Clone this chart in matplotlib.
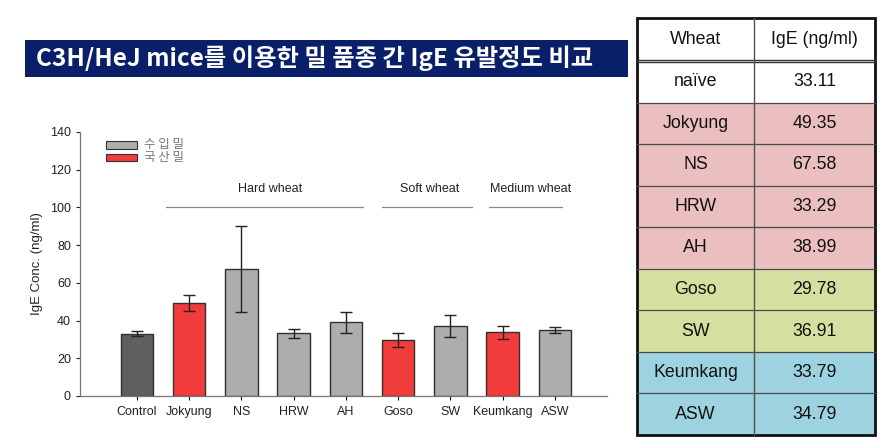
import matplotlib
matplotlib.use("Agg")
import matplotlib.pyplot as plt
from matplotlib.patches import Rectangle

plt.rcParams['font.family'] = ['Liberation Sans', 'Noto Sans CJK KR', 'DejaVu Sans']

# ---- data ----
categories = ["Control", "Jokyung", "NS", "HRW", "AH", "Goso", "SW", "Keumkang", "ASW"]
means = [33.11, 49.35, 67.58, 33.29, 38.99, 29.78, 36.91, 33.79, 34.79]
errors = [1.5, 4.2, 22.8, 2.5, 5.8, 3.6, 5.8, 3.4, 1.6]
kinds = ["control", "domestic", "import", "import", "import", "domestic", "import", "domestic", "import"]
legend_labels = ["수 입 밀", "국 산 밀"]
groups = ["Hard wheat", "Soft wheat", "Medium wheat"]
group_spans = [(0.56, 4.33), (4.69, 6.41), (6.74, 8.14)]
group_label_x = [2.55, 5.6, 7.54]
yticks = [0, 20, 40, 60, 80, 100, 120, 140]

table_header = ["Wheat", "IgE (ng/ml)"]
table_names = ["naïve", "Jokyung", "NS", "HRW", "AH", "Goso", "SW", "Keumkang", "ASW"]
table_values = ["33.11", "49.35", "67.58", "33.29", "38.99", "29.78", "36.91", "33.79", "34.79"]
table_groups = ["none", "hard", "hard", "hard", "hard", "soft", "soft", "medium", "medium"]

title = "C3H/HeJ mice를 이용한 밀 품종 간 IgE 유발정도 비교"

colors = {"control": "#5f5f5f", "domestic": "#f23c3c", "import": "#adadad"}
row_colors = {"none": "#ffffff", "hard": "#ebbfc0", "soft": "#d5e0a0", "medium": "#9dd3e0"}

W, H = 884, 446
fig = plt.figure(figsize=(W / 100, H / 100), dpi=100)

# ---- title banner ----
bax = fig.add_axes([0, 0, 1, 1])
bax.set_xlim(0, W)
bax.set_ylim(H, 0)
bax.axis("off")
bax.add_patch(Rectangle((25, 40), 603, 37, facecolor="#0a1f6a", edgecolor="none"))
bax.text(315, 58.5, title, color="white", fontsize=17.5, fontweight="bold",
         ha="center", va="center", family=["Noto Sans CJK KR", "DejaVu Sans"])

# ---- table ----
tl, tr, tt, tb = 637, 875, 18, 435
tdiv = 754
hdr_b = 61
nrows = len(table_names)
rh = (tb - hdr_b) / nrows
tfs = 12.8
for i, (nm, val, g) in enumerate(zip(table_names, table_values, table_groups)):
    y0 = hdr_b + i * rh
    bax.add_patch(Rectangle((tl, y0), tr - tl, rh, facecolor=row_colors[g],
                            edgecolor="none"))
    if i > 0:
        bax.plot([tl, tr], [y0, y0], color="#4a4a4a", lw=0.9)
    bax.text((tl + tdiv) / 2, y0 + rh / 2, nm, ha="center", va="center", fontsize=tfs, color="#111111")
    bax.text((tdiv + tr) / 2, y0 + rh / 2, val, ha="center", va="center", fontsize=tfs, color="#111111")
bax.text((tl + tdiv) / 2, (tt + hdr_b) / 2, table_header[0], ha="center", va="center", fontsize=tfs, color="#111111")
bax.text((tdiv + tr) / 2, (tt + hdr_b) / 2, table_header[1], ha="center", va="center", fontsize=tfs, color="#111111")
bax.plot([tl, tr], [hdr_b - 1.5, hdr_b - 1.5], color="#303030", lw=1.0)
bax.plot([tl, tr], [hdr_b + 0.5, hdr_b + 0.5], color="#303030", lw=1.0)
bax.plot([tdiv, tdiv], [tt, tb], color="#505050", lw=1.0)
bax.add_patch(Rectangle((tl, tt), tr - tl, tb - tt, facecolor="none", edgecolor="#111111", lw=2.0))

# ---- bar chart ----
ax = fig.add_axes([80 / W, 1 - 396 / H, (607 - 80) / W, (396 - 132) / H])
x = list(range(len(categories)))
ax.bar(x, means, width=0.62, color=[colors[k] for k in kinds], edgecolor="#303030", linewidth=1.0,
       zorder=2)
ax.errorbar(x, means, yerr=errors, fmt="none", ecolor="#222222", elinewidth=1.0, capsize=4,
            capthick=1.0, zorder=3)
ax.set_xlim(-1.09, 9.0)
ax.set_ylim(0, 140)
ax.set_yticks(yticks)
ax.set_xticks(x)
ax.set_xticklabels(categories, fontsize=9, color="#222222")
ax.tick_params(axis="y", labelsize=9, colors="#222222", length=3, width=0.8)
ax.tick_params(axis="x", length=3, width=0.8, pad=4)
for s in ["top", "right"]:
    ax.spines[s].set_visible(False)
for s in ["left", "bottom"]:
    ax.spines[s].set_color("#777777")
    ax.spines[s].set_linewidth(0.9)
ax.set_ylabel("IgE Conc. (ng/ml)", fontsize=9.5, color="#222222", labelpad=5)

for g, (a, b), lx in zip(groups, group_spans, group_label_x):
    ax.plot([a, b], [100, 100], color="#888888", lw=0.9, clip_on=False)
    ax.text(lx, 110, g, ha="center", va="center", fontsize=9, color="#222222")

# legend
leg_x0, leg_x1 = -0.59, 0.0
for i, (lab, k) in enumerate(zip(legend_labels, ["import", "domestic"])):
    yc = 133.2 - i * 6.7
    ax.add_patch(Rectangle((leg_x0, yc - 2.0), leg_x1 - leg_x0, 4.0, facecolor=colors[k],
                           edgecolor="#303030", lw=0.8, clip_on=False))
    ax.text(0.13, yc, lab, ha="left", va="center", fontsize=9, color="#777777",
            family=["Noto Sans CJK KR", "DejaVu Sans"])

fig.savefig("out.png", dpi=100)
